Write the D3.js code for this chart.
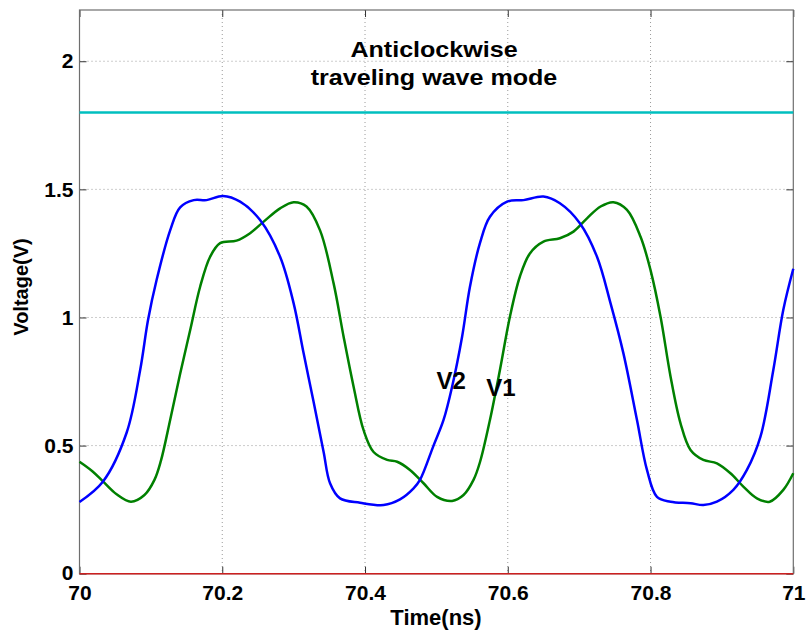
<!DOCTYPE html>
<html>
<head>
<meta charset="utf-8">
<script src="https://cdn.jsdelivr.net/npm/d3@7"></script>
<style>
  html, body { margin: 0; padding: 0; background: #fff; }
  svg { display: block; font-family: "Liberation Sans", Arial, sans-serif; font-weight: bold; }
</style>
</head>
<body>
<svg id="chart" width="807" height="633"></svg>
<script>
// Time axis (ns) and V2 (blue) samples
const v2Time = [70.000, 70.033, 70.066, 70.085, 70.096, 70.108, 70.127, 70.141, 70.160, 70.178,
  70.201, 70.225, 70.253, 70.281, 70.300, 70.314, 70.328, 70.342, 70.351, 70.365,
  70.393, 70.426, 70.449, 70.468, 70.477, 70.496, 70.510, 70.522, 70.536, 70.547,
  70.561, 70.575, 70.599, 70.622, 70.650, 70.673, 70.701, 70.725, 70.744, 70.762,
  70.781, 70.795, 70.809, 70.828, 70.856, 70.874, 70.893, 70.916, 70.935, 70.954,
  70.972, 70.986, 71.000];
const v2Volt = [0.280, 0.360, 0.550, 0.795, 0.990, 1.146, 1.340, 1.430, 1.458, 1.458,
  1.474, 1.452, 1.380, 1.237, 1.055, 0.860, 0.670, 0.475, 0.353, 0.294,
  0.277, 0.268, 0.290, 0.333, 0.366, 0.500, 0.600, 0.730, 0.925, 1.120,
  1.290, 1.393, 1.452, 1.458, 1.472, 1.446, 1.368, 1.237, 1.055, 0.860,
  0.600, 0.405, 0.300, 0.281, 0.275, 0.268, 0.281, 0.327, 0.405, 0.535,
  0.795, 1.030, 1.190];

// V1 (green) samples
const v1Time = [70.000, 70.018, 70.033, 70.052, 70.072, 70.091, 70.105, 70.114, 70.127, 70.141,
  70.155, 70.169, 70.183, 70.197, 70.220, 70.239, 70.258, 70.281, 70.300, 70.318,
  70.337, 70.356, 70.370, 70.384, 70.398, 70.412, 70.431, 70.445, 70.463, 70.482,
  70.501, 70.522, 70.538, 70.552, 70.561, 70.575, 70.589, 70.603, 70.617, 70.631,
  70.650, 70.673, 70.692, 70.711, 70.730, 70.748, 70.767, 70.786, 70.800, 70.814,
  70.828, 70.842, 70.856, 70.874, 70.893, 70.912, 70.930, 70.949, 70.967, 70.986,
  71.000];
const v1Volt = [0.437, 0.400, 0.360, 0.310, 0.281, 0.307, 0.366, 0.440, 0.600, 0.780,
  0.950, 1.120, 1.237, 1.290, 1.300, 1.329, 1.374, 1.426, 1.450, 1.433,
  1.340, 1.133, 0.925, 0.730, 0.560, 0.475, 0.444, 0.437, 0.405, 0.353,
  0.300, 0.284, 0.307, 0.366, 0.435, 0.600, 0.795, 1.003, 1.160, 1.250,
  1.296, 1.309, 1.335, 1.387, 1.433, 1.450, 1.420, 1.315, 1.185, 1.003,
  0.770, 0.587, 0.483, 0.444, 0.431, 0.392, 0.340, 0.294, 0.281, 0.327,
  0.392];

// Constant reference levels
const supplyLevel = 1.8;
const groundLevel = 0;

const xTicks = [70, 70.2, 70.4, 70.6, 70.8, 71];
const xTickLabels = ["70", "70.2", "70.4", "70.6", "70.8", "71"];
const yTicks = [0, 0.5, 1, 1.5, 2];
const yTickLabels = ["0", "0.5", "1", "1.5", "2"];

const titleLines = ["Anticlockwise", "traveling wave mode"];
const seriesLabels = [
  { text: "V2", t: 70.500, v: 0.72 },
  { text: "V1", t: 70.570, v: 0.695 }
];

const svg = d3.select("#chart");
const plotLeft = 79.5, plotRight = 793.3, plotTop = 10, plotBottom = 573.7;

const x = d3.scaleLinear().domain([70, 71]).range([plotLeft, plotRight]);
const y = d3.scaleLinear().domain([0, 2.2]).range([plotBottom, plotTop]);

// Dotted grid
const grid = svg.append("g").attr("stroke", "#9a9a9a").attr("stroke-width", 1)
  .attr("stroke-dasharray", "1,3");
grid.selectAll(".gx").data(xTicks.slice(1, -1)).join("line")
  .attr("x1", d => x(d)).attr("x2", d => x(d)).attr("y1", plotTop).attr("y2", plotBottom);
grid.selectAll(".gy").data(yTicks.slice(1)).join("line")
  .attr("x1", plotLeft).attr("x2", plotRight).attr("y1", d => y(d)).attr("y2", d => y(d));

// Axes with inward ticks
const fmtX = d => xTickLabels[xTicks.indexOf(d)];
const fmtY = d => yTickLabels[yTicks.indexOf(d)];

function styleAxis(g) {
  g.select(".domain").remove();
  g.selectAll(".tick line").attr("stroke", "#333").attr("stroke-width", 1);
  g.selectAll(".tick text").attr("fill", "#000")
    .style("font-family", "'Liberation Sans', Arial, sans-serif")
    .style("font-weight", "bold").style("font-size", "21px");
}

svg.append("g").attr("transform", `translate(0,${plotBottom})`)
  .call(d3.axisBottom(x).tickValues(xTicks).tickFormat(fmtX).tickSize(-7).tickPadding(11))
  .call(styleAxis);
svg.append("g").attr("transform", `translate(0,${plotTop})`)
  .call(d3.axisTop(x).tickValues(xTicks).tickFormat("").tickSize(-7))
  .call(styleAxis);
svg.append("g").attr("transform", `translate(${plotLeft},0)`)
  .call(d3.axisLeft(y).tickValues(yTicks).tickFormat(fmtY).tickSize(-7).tickPadding(6))
  .call(styleAxis);
svg.append("g").attr("transform", `translate(${plotRight},0)`)
  .call(d3.axisRight(y).tickValues(yTicks).tickFormat("").tickSize(-7))
  .call(styleAxis);

// Lift the "0" label a touch so it clears the "70" below it
svg.selectAll(".tick text").filter(function () { return this.textContent === "0"; })
  .attr("dy", "0.28em");

// Plot box
svg.append("rect").attr("x", plotLeft).attr("y", plotTop)
  .attr("width", plotRight - plotLeft).attr("height", plotBottom - plotTop)
  .attr("fill", "none").attr("stroke", "#6e6e6e").attr("stroke-width", 1.2);

// Supply and ground levels
svg.append("line").attr("x1", x(70)).attr("x2", x(71))
  .attr("y1", y(supplyLevel)).attr("y2", y(supplyLevel))
  .attr("stroke", "#00bfbf").attr("stroke-width", 2.6);
svg.append("line").attr("x1", x(70)).attr("x2", x(71))
  .attr("y1", y(groundLevel)).attr("y2", y(groundLevel))
  .attr("stroke", "#cc2020").attr("stroke-width", 1.5);

// Waveforms
const line = d3.line().x(d => x(d[0])).y(d => y(d[1])).curve(d3.curveCatmullRom.alpha(0.5));
svg.append("path").datum(d3.zip(v1Time, v1Volt))
  .attr("d", line).attr("fill", "none").attr("stroke", "#008000").attr("stroke-width", 2.5);
svg.append("path").datum(d3.zip(v2Time, v2Volt))
  .attr("d", line).attr("fill", "none").attr("stroke", "#0000ff").attr("stroke-width", 2.5);

// Series labels
svg.selectAll(".slabel").data(seriesLabels).join("text")
  .attr("x", d => x(d.t)).attr("y", d => y(d.v))
  .attr("font-size", 24).attr("fill", "#000")
  .text(d => d.text);

// Title
const title = svg.append("text")
  .attr("transform", "translate(434,0) scale(1.14,1)")
  .attr("text-anchor", "middle").attr("font-size", 22).attr("fill", "#000");
title.selectAll("tspan").data(titleLines).join("tspan")
  .attr("x", 0).attr("y", (d, i) => i === 0 ? 57 : 85).text(d => d);

// Axis titles
svg.append("text").attr("x", 436).attr("y", 625)
  .attr("text-anchor", "middle").attr("font-size", 22).attr("fill", "#000")
  .text("Time(ns)");
svg.append("text").attr("transform", "translate(28,287) rotate(-90)")
  .attr("text-anchor", "middle").attr("font-size", 20).attr("fill", "#000")
  .text("Voltage(V)");
</script>
</body>
</html>
